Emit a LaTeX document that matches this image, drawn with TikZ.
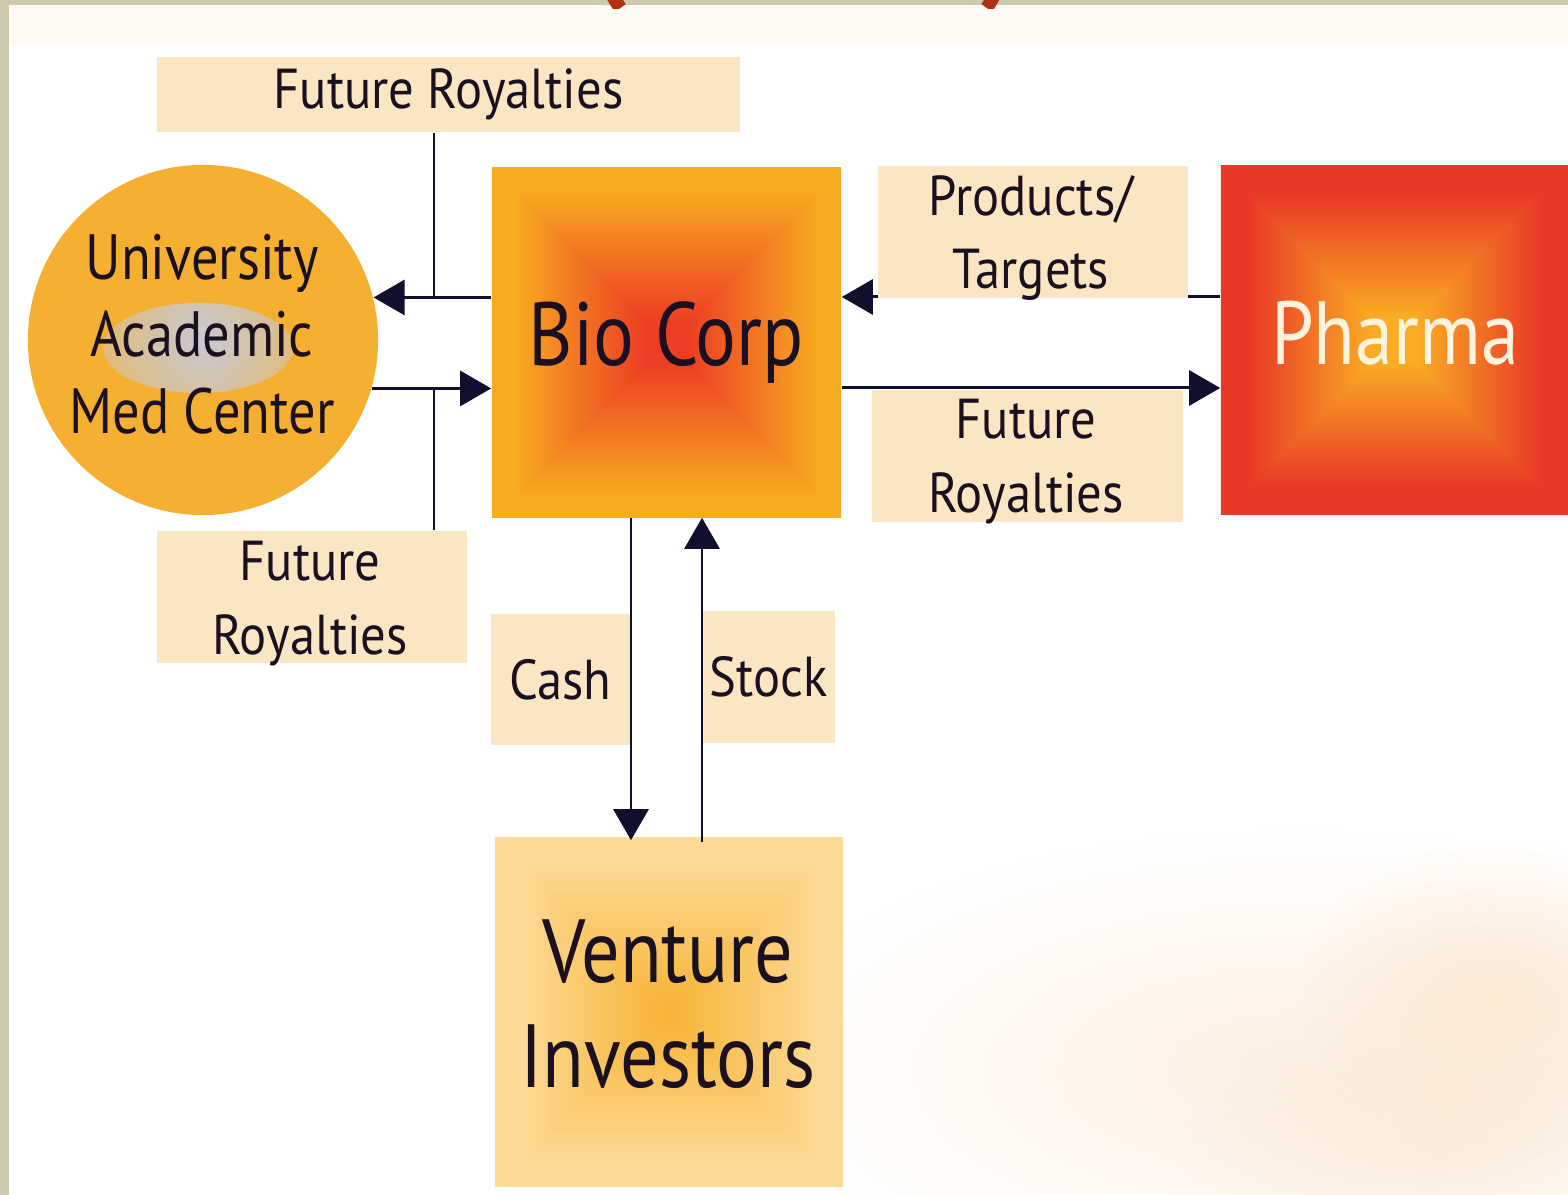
\documentclass[tikz,border=0pt]{standalone}
\usepackage{fontspec}
\setmainfont{PT Sans}[FakeStretch=0.85]
\newfontfamily\lblfont{PT Sans}[FakeStretch=0.9]
\usetikzlibrary{arrows.meta,fadings,calc}
\definecolor{beige}{HTML}{CDC9AE}
\definecolor{creamtop}{HTML}{FFF9F3}
\definecolor{lblfill}{HTML}{FBE6C4}
\definecolor{unifill}{HTML}{F6B031}
\definecolor{arrowc}{HTML}{10102E}
\definecolor{textc}{HTML}{1A1020}
\definecolor{pharmatext}{HTML}{FFF3DD}
\definecolor{titlered}{HTML}{B0300F}
\definecolor{peachbg}{HTML}{F8D2A8}
\definecolor{blobgray}{HTML}{C8CAD4}
\pgfdeclarefunctionalshading{biograd}{\pgfpoint{-50bp}{-50bp}}{\pgfpoint{50bp}{50bp}}{}{
  abs exch abs 2 copy gt {pop} {exch pop} ifelse
  25 div 0.12 sub 0.75 div dup 0 lt {pop 0} if dup 1 gt {pop 1} if
  dup dup
  -0.01 mul 0.14 add
  3 1 roll
  0.43 mul 0.24 add
  exch
  0.04 mul 0.93 add
  3 1 roll exch
}
\pgfdeclarefunctionalshading{pharmagrad}{\pgfpoint{-50bp}{-50bp}}{\pgfpoint{50bp}{50bp}}{}{
  abs exch abs 2 copy gt {pop} {exch pop} ifelse
  25 div 0.12 sub 0.72 div dup 0 lt {pop 0} if dup 1 gt {pop 1} if
  dup dup
  0.01 mul 0.14 add
  3 1 roll
  -0.46 mul 0.68 add
  exch
  -0.07 mul 0.98 add
  3 1 roll exch
}
\pgfdeclarefunctionalshading{ventgrad}{\pgfpoint{-50bp}{-50bp}}{\pgfpoint{50bp}{50bp}}{}{
  abs exch abs 2 copy gt {pop} {exch pop} ifelse
  25 div 0.85 div dup 1 gt {pop 1} if
  dup dup
  0.38 mul 0.20 add
  3 1 roll
  0.15 mul 0.70 add
  exch
  0.02 mul 0.97 add
  3 1 roll exch
}
\tikzfading[name=softedge, inner color=transparent!0, outer color=transparent!100]
\tikzset{
  lbl/.style={fill=lblfill, inner sep=0pt, align=center, text=textc,
    font=\lblfont\fontsize{16}{21}\selectfont},
  lbltxt/.style={inner sep=0pt, align=center, text=textc,
    font=\lblfont\fontsize{16}{21}\selectfont},
  bigbox/.style={inner sep=0pt, align=center, minimum width=3.49cm, minimum height=3.49cm,
    font=\fontsize{25.5}{30}\selectfont, text=textc},
  bigtext/.style={inner sep=0pt, align=center, text=textc,
    font=\fontsize{25.5}{30}\selectfont},
  ln/.style={draw=arrowc, line width=0.85pt},
  arr/.style={ln, -{Triangle[length=0.31cm,width=0.35cm]}}
}
\begin{document}
\begin{tikzpicture}[x=0.01cm,y=-0.01cm]
\useasboundingbox (0,0) rectangle (1568,1195);
% background
\fill[beige] (0,0) rectangle (1568,1195);
\fill[white] (9,5) rectangle (1568,1195);
\fill[creamtop] (9,5) rectangle (1568,45);
\begin{scope}
  \clip (0,0) rectangle (1568,9);
  \node[font=\fontsize{40}{40}\selectfont\bfseries, text=titlered, anchor=base] (tl) at (608,-18) {(};
  \node[font=\fontsize{40}{40}\selectfont\bfseries, text=titlered, anchor=base] (tr) at (1000,-18) {)};
\end{scope}
% soft peach area lower right
\fill[peachbg, opacity=0.35, path fading=softedge] (1300,1070) ellipse [x radius=5.6cm, y radius=2.4cm];
\fill[peachbg, opacity=0.4, path fading=softedge] (1500,1000) ellipse [x radius=2.0cm, y radius=1.6cm];
\fill[peachbg, opacity=0.25, path fading=softedge] (1440,1150) ellipse [x radius=2.6cm, y radius=1.0cm];
% helper coordinates
\coordinate (yA) at (0,297);
\coordinate (yB) at (0,388);
\coordinate (jx) at (434,0);
\coordinate (xC) at (631,0);
\coordinate (xS) at (702,0);
% main nodes
\node[bigbox, shading=biograd] (bio) at (666.5,342.5) {Bio Corp};
\node[bigbox, shading=pharmagrad, minimum width=3.47cm, minimum height=3.48cm] (pharma) at (1394.5,340) {};
\node[bigtext, text=pharmatext] (pharmaT) at (1395,333) {Pharma};
\node[bigbox, shading=ventgrad, minimum width=3.48cm, minimum height=3.48cm] (vent) at (669,1012) {};
\node[bigtext, font=\fontsize{25.5}{29.9}\selectfont] (ventT) at (668,1004) {Venture\\Investors};
\node[circle, fill=unifill, minimum size=3.5cm, inner sep=0pt,
  path picture={\fill[blobgray, path fading=softedge] ($(path picture bounding box.center)+(-5,8)$) ellipse [x radius=0.95cm, y radius=0.45cm];}]
  (uni) at (203,340) {};
\node[inner sep=0pt, align=center, text=textc, font=\fontsize{18.2}{21.9}\selectfont] (uniT) at (202,334) {University\\Academic\\Med Center};
% arrow hidden behind label box
\draw[arr] (pharma.west |- yA) -- (bio.east |- yA);
% label boxes
\node[lbl, minimum width=5.83cm, minimum height=0.75cm] (fr1) at (448.5,94.5) {Future Royalties};
\node[lbl, minimum width=3.10cm, minimum height=1.32cm] (pt) at (1033,232) {};
\node[lbltxt] (ptT) at (1031,238) {Products/\\Targets};
\node[lbl, minimum width=3.11cm, minimum height=1.32cm] (fr2) at (1027.5,456) {};
\node[lbltxt] (fr2T) at (1026,462) {Future\\Royalties};
\node[lbl, minimum width=3.10cm, minimum height=1.32cm] (fr3) at (312,597) {};
\node[lbltxt] (fr3T) at (310,604) {Future\\Royalties};
\node[lbl, minimum width=1.39cm, minimum height=1.31cm] (cash) at (560.5,679.5) {Cash};
\node[lbl, minimum width=1.33cm, minimum height=1.32cm] (stock) at (768.5,677) {Stock};
% connectors
\draw[arr] (bio.west |- uni.14) -- (uni.14);
\draw[arr] (uni.-16) -- (bio.west |- uni.-16);
\draw[ln] (fr1.south -| jx) -- (jx |- uni.14);
\draw[ln] (jx |- uni.-16) -- (fr3.north -| jx);
\draw[arr] (bio.east |- yB) -- (pharma.west |- yB);
\draw[arr] (bio.south -| xC) -- ([yshift=-0.03cm]vent.north -| xC);
\draw[arr] ([yshift=-0.05cm]vent.north -| xS) -- (bio.south -| xS);
\end{tikzpicture}
\end{document}
